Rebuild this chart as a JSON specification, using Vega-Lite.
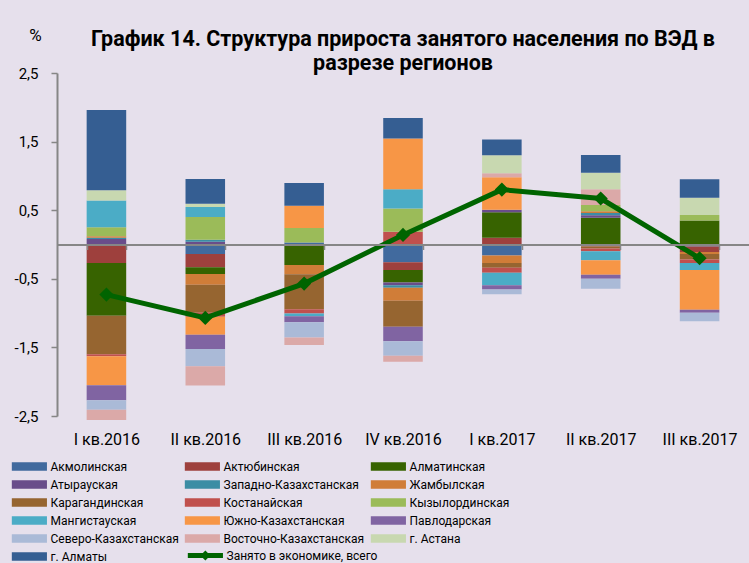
{
  "$schema": "https://vega.github.io/schema/vega-lite/v6.json",
  "autosize": {"type": "none"},
  "padding": {"left": 57, "top": 73, "right": 0, "bottom": 147},
  "width": 692,
  "height": 343,
  "background": "#E6E0EC",
  "config": {"view": {"stroke": null}, "font": "Roboto"},
  "title": {
    "text": ["График 14. Структура прироста занятого населения по ВЭД в", "разрезе регионов"],
    "fontSize": 21.5, "fontWeight": "bold", "font": "Roboto", "color": "#000000",
    "anchor": "middle", "lineHeight": 24, "offset": 2, "dy": 50
  },
  "datasets": {
    "bars": [
      {"q": "I кв.2016", "r": "Атырауская", "i": 3, "v": 0.08},
      {"q": "I кв.2016", "r": "Западно-Казахстанская", "i": 4, "v": 0.02},
      {"q": "I кв.2016", "r": "Жамбылская", "i": 5, "v": 0.02},
      {"q": "I кв.2016", "r": "Кызылординская", "i": 8, "v": 0.13},
      {"q": "I кв.2016", "r": "Мангистауская", "i": 9, "v": 0.39},
      {"q": "I кв.2016", "r": "г. Астана", "i": 14, "v": 0.15},
      {"q": "I кв.2016", "r": "г. Алматы", "i": 15, "v": 1.17},
      {"q": "I кв.2016", "r": "Актюбинская", "i": 1, "v": -0.27},
      {"q": "I кв.2016", "r": "Алматинская", "i": 2, "v": -0.77},
      {"q": "I кв.2016", "r": "Карагандинская", "i": 6, "v": -0.56},
      {"q": "I кв.2016", "r": "Костанайская", "i": 7, "v": -0.03},
      {"q": "I кв.2016", "r": "Южно-Казахстанская", "i": 10, "v": -0.42},
      {"q": "I кв.2016", "r": "Павлодарская", "i": 11, "v": -0.22},
      {"q": "I кв.2016", "r": "Северо-Казахстанская", "i": 12, "v": -0.14},
      {"q": "I кв.2016", "r": "Восточно-Казахстанская", "i": 13, "v": -0.15},

      {"q": "II кв.2016", "r": "Акмолинская", "i": 0, "v": -0.14},
      {"q": "II кв.2016", "r": "Актюбинская", "i": 1, "v": -0.19},
      {"q": "II кв.2016", "r": "Алматинская", "i": 2, "v": -0.10},
      {"q": "II кв.2016", "r": "Атырауская", "i": 3, "v": 0.04},
      {"q": "II кв.2016", "r": "Западно-Казахстанская", "i": 4, "v": 0.03},
      {"q": "II кв.2016", "r": "Жамбылская", "i": 5, "v": -0.155},
      {"q": "II кв.2016", "r": "Карагандинская", "i": 6, "v": -0.41},
      {"q": "II кв.2016", "r": "Костанайская", "i": 7, "v": -0.06},
      {"q": "II кв.2016", "r": "Кызылординская", "i": 8, "v": 0.33},
      {"q": "II кв.2016", "r": "Мангистауская", "i": 9, "v": 0.145},
      {"q": "II кв.2016", "r": "Южно-Казахстанская", "i": 10, "v": -0.26},
      {"q": "II кв.2016", "r": "Павлодарская", "i": 11, "v": -0.21},
      {"q": "II кв.2016", "r": "Северо-Казахстанская", "i": 12, "v": -0.25},
      {"q": "II кв.2016", "r": "Восточно-Казахстанская", "i": 13, "v": -0.28},
      {"q": "II кв.2016", "r": "г. Астана", "i": 14, "v": 0.05},
      {"q": "II кв.2016", "r": "г. Алматы", "i": 15, "v": 0.36},

      {"q": "III кв.2016", "r": "Акмолинская", "i": 0, "v": 0.03},
      {"q": "III кв.2016", "r": "Алматинская", "i": 2, "v": -0.30},
      {"q": "III кв.2016", "r": "Жамбылская", "i": 5, "v": -0.135},
      {"q": "III кв.2016", "r": "Карагандинская", "i": 6, "v": -0.51},
      {"q": "III кв.2016", "r": "Костанайская", "i": 7, "v": -0.06},
      {"q": "III кв.2016", "r": "Кызылординская", "i": 8, "v": 0.21},
      {"q": "III кв.2016", "r": "Мангистауская", "i": 9, "v": -0.04},
      {"q": "III кв.2016", "r": "Южно-Казахстанская", "i": 10, "v": 0.325},
      {"q": "III кв.2016", "r": "Павлодарская", "i": 11, "v": -0.09},
      {"q": "III кв.2016", "r": "Северо-Казахстанская", "i": 12, "v": -0.22},
      {"q": "III кв.2016", "r": "Восточно-Казахстанская", "i": 13, "v": -0.11},
      {"q": "III кв.2016", "r": "г. Алматы", "i": 15, "v": 0.33},

      {"q": "IV кв.2016", "r": "Акмолинская", "i": 0, "v": -0.26},
      {"q": "IV кв.2016", "r": "Актюбинская", "i": 1, "v": -0.11},
      {"q": "IV кв.2016", "r": "Алматинская", "i": 2, "v": -0.185},
      {"q": "IV кв.2016", "r": "Атырауская", "i": 3, "v": -0.04},
      {"q": "IV кв.2016", "r": "Западно-Казахстанская", "i": 4, "v": -0.035},
      {"q": "IV кв.2016", "r": "Жамбылская", "i": 5, "v": -0.19},
      {"q": "IV кв.2016", "r": "Карагандинская", "i": 6, "v": -0.38},
      {"q": "IV кв.2016", "r": "Костанайская", "i": 7, "v": 0.185},
      {"q": "IV кв.2016", "r": "Кызылординская", "i": 8, "v": 0.34},
      {"q": "IV кв.2016", "r": "Мангистауская", "i": 9, "v": 0.28},
      {"q": "IV кв.2016", "r": "Южно-Казахстанская", "i": 10, "v": 0.74},
      {"q": "IV кв.2016", "r": "Павлодарская", "i": 11, "v": -0.21},
      {"q": "IV кв.2016", "r": "Северо-Казахстанская", "i": 12, "v": -0.21},
      {"q": "IV кв.2016", "r": "Восточно-Казахстанская", "i": 13, "v": -0.09},
      {"q": "IV кв.2016", "r": "г. Алматы", "i": 15, "v": 0.30},

      {"q": "I кв.2017", "r": "Акмолинская", "i": 0, "v": -0.16},
      {"q": "I кв.2017", "r": "Актюбинская", "i": 1, "v": 0.10},
      {"q": "I кв.2017", "r": "Алматинская", "i": 2, "v": 0.37},
      {"q": "I кв.2017", "r": "Атырауская", "i": 3, "v": 0.035},
      {"q": "I кв.2017", "r": "Жамбылская", "i": 5, "v": -0.11},
      {"q": "I кв.2017", "r": "Карагандинская", "i": 6, "v": -0.07},
      {"q": "I кв.2017", "r": "Костанайская", "i": 7, "v": -0.07},
      {"q": "I кв.2017", "r": "Мангистауская", "i": 9, "v": -0.185},
      {"q": "I кв.2017", "r": "Южно-Казахстанская", "i": 10, "v": 0.475},
      {"q": "I кв.2017", "r": "Павлодарская", "i": 11, "v": -0.06},
      {"q": "I кв.2017", "r": "Северо-Казахстанская", "i": 12, "v": -0.07},
      {"q": "I кв.2017", "r": "Восточно-Казахстанская", "i": 13, "v": 0.06},
      {"q": "I кв.2017", "r": "г. Астана", "i": 14, "v": 0.26},
      {"q": "I кв.2017", "r": "г. Алматы", "i": 15, "v": 0.23},

      {"q": "II кв.2017", "r": "Актюбинская", "i": 1, "v": -0.03},
      {"q": "II кв.2017", "r": "Алматинская", "i": 2, "v": 0.39},
      {"q": "II кв.2017", "r": "Атырауская", "i": 3, "v": 0.035},
      {"q": "II кв.2017", "r": "Западно-Казахстанская", "i": 4, "v": 0.035},
      {"q": "II кв.2017", "r": "Жамбылская", "i": 5, "v": 0.025},
      {"q": "II кв.2017", "r": "Карагандинская", "i": 6, "v": -0.03},
      {"q": "II кв.2017", "r": "Костанайская", "i": 7, "v": -0.04},
      {"q": "II кв.2017", "r": "Кызылординская", "i": 8, "v": 0.09},
      {"q": "II кв.2017", "r": "Мангистауская", "i": 9, "v": -0.13},
      {"q": "II кв.2017", "r": "Южно-Казахстанская", "i": 10, "v": -0.21},
      {"q": "II кв.2017", "r": "Павлодарская", "i": 11, "v": -0.06},
      {"q": "II кв.2017", "r": "Северо-Казахстанская", "i": 12, "v": -0.145},
      {"q": "II кв.2017", "r": "Восточно-Казахстанская", "i": 13, "v": 0.23},
      {"q": "II кв.2017", "r": "г. Астана", "i": 14, "v": 0.24},
      {"q": "II кв.2017", "r": "г. Алматы", "i": 15, "v": 0.26},

      {"q": "III кв.2017", "r": "Акмолинская", "i": 0, "v": -0.03},
      {"q": "III кв.2017", "r": "Актюбинская", "i": 1, "v": -0.08},
      {"q": "III кв.2017", "r": "Алматинская", "i": 2, "v": 0.35},
      {"q": "III кв.2017", "r": "Жамбылская", "i": 5, "v": -0.03},
      {"q": "III кв.2017", "r": "Карагандинская", "i": 6, "v": -0.08},
      {"q": "III кв.2017", "r": "Костанайская", "i": 7, "v": -0.05},
      {"q": "III кв.2017", "r": "Кызылординская", "i": 8, "v": 0.08},
      {"q": "III кв.2017", "r": "Мангистауская", "i": 9, "v": -0.10},
      {"q": "III кв.2017", "r": "Южно-Казахстанская", "i": 10, "v": -0.58},
      {"q": "III кв.2017", "r": "Павлодарская", "i": 11, "v": -0.045},
      {"q": "III кв.2017", "r": "Северо-Казахстанская", "i": 12, "v": -0.125},
      {"q": "III кв.2017", "r": "г. Астана", "i": 14, "v": 0.25},
      {"q": "III кв.2017", "r": "г. Алматы", "i": 15, "v": 0.27}
    ],
    "total": [
      {"q": "I кв.2016", "v": -0.73},
      {"q": "II кв.2016", "v": -1.07},
      {"q": "III кв.2016", "v": -0.57},
      {"q": "IV кв.2016", "v": 0.14},
      {"q": "I кв.2017", "v": 0.80},
      {"q": "II кв.2017", "v": 0.67},
      {"q": "III кв.2017", "v": -0.20}
    ]
  },
  "encoding": {
    "x": {
      "field": "q", "type": "nominal",
      "sort": ["I кв.2016", "II кв.2016", "III кв.2016", "IV кв.2016", "I кв.2017", "II кв.2017", "III кв.2017"],
      "scale": {"paddingInner": 0.6, "paddingOuter": 0.3},
      "axis": {
        "title": null, "orient": "bottom", "offset": -171.5, "zindex": 1,
        "domainColor": "#868686", "domainWidth": 2,
        "tickColor": "#868686", "tickSize": 5, "tickWidth": 1.5, "tickBand": "extent",
        "labelPadding": 182, "labelFontSize": 16, "labelColor": "#000000", "labelAngle": 0,
        "grid": false
      }
    },
    "y": {
      "field": "v", "type": "quantitative",
      "scale": {"domain": [-2.5, 2.5], "nice": false, "zero": false},
      "axis": {
        "title": "%", "titleAngle": 0, "titleX": -22, "titleY": -38,
        "titleAlign": "center", "titleBaseline": "middle",
        "titleFontSize": 17, "titleFontWeight": "normal", "titleColor": "#000000",
        "values": [-2.5, -1.5, -0.5, 0.5, 1.5, 2.5],
        "labelExpr": "(datum.value < 0 ? '-' : '') + replace(format(abs(datum.value), '.1f'), '.', ',')",
        "labelFontSize": 15, "labelColor": "#000000", "labelPadding": 13,
        "domainColor": "#868686", "domainWidth": 2,
        "tickColor": "#868686", "tickSize": 6, "tickWidth": 1.5,
        "grid": false
      }
    }
  },
  "layer": [
    {
      "data": {"name": "bars"},
      "mark": {"type": "bar"},
      "encoding": {
        "y": {"field": "v", "type": "quantitative", "stack": "zero"},
        "color": {
          "field": "r", "type": "nominal",
          "scale": {
            "domain": ["Акмолинская", "Актюбинская", "Алматинская", "Атырауская", "Западно-Казахстанская", "Жамбылская", "Карагандинская", "Костанайская", "Кызылординская", "Мангистауская", "Южно-Казахстанская", "Павлодарская", "Северо-Казахстанская", "Восточно-Казахстанская", "г. Астана", "г. Алматы"],
            "range": ["#416A9E", "#9E403D", "#376300", "#694D8A", "#3C8DA4", "#D07D38", "#966530", "#C0504D", "#9BBB59", "#4BACC6", "#F79646", "#8064A2", "#AABAD7", "#DBA9A8", "#C8D8B0", "#355E92"]
          },
          "legend": {
            "title": null, "orient": "none", "legendX": -47, "legendY": 387.5,
            "direction": "horizontal",
            "columns": 3, "gridAlign": "each", "columnPadding": 4, "rowPadding": 6,
            "symbolType": "M-1,-1H7.4V1H-1Z", "symbolSize": 70, "symbolStrokeWidth": 0,
            "labelFontSize": 12, "labelOffset": 28.5, "labelColor": "#000000", "labelLimit": 300,
            "padding": 0
          }
        },
        "order": {"field": "i", "type": "quantitative"}
      }
    },
    {
      "data": {"name": "total"},
      "mark": {
        "type": "line", "strokeWidth": 5,
        "point": {"shape": "diamond", "size": 200, "filled": true, "fill": "#006400", "strokeWidth": 0}
      },
      "encoding": {
        "stroke": {
          "datum": "Занято в экономике, всего", "type": "nominal",
          "scale": {"range": ["#006400"]},
          "legend": {
            "title": null, "orient": "none", "legendX": 129, "legendY": 476.5,
            "symbolType": "M-1,-0.6H2.6L3.2,-1.2L3.8,-0.6H7.4V0.6H3.8L3.2,1.2L2.6,0.6H-1Z",
            "symbolSize": 70, "symbolStrokeWidth": 0,
            "labelFontSize": 12, "labelOffset": 28.5, "labelColor": "#000000", "labelLimit": 300,
            "padding": 0,
            "encode": {"symbols": {"update": {"fill": {"value": "#006400"}, "stroke": {"value": "transparent"}, "opacity": {"value": 1}}}}
          }
        }
      }
    }
  ]
}
